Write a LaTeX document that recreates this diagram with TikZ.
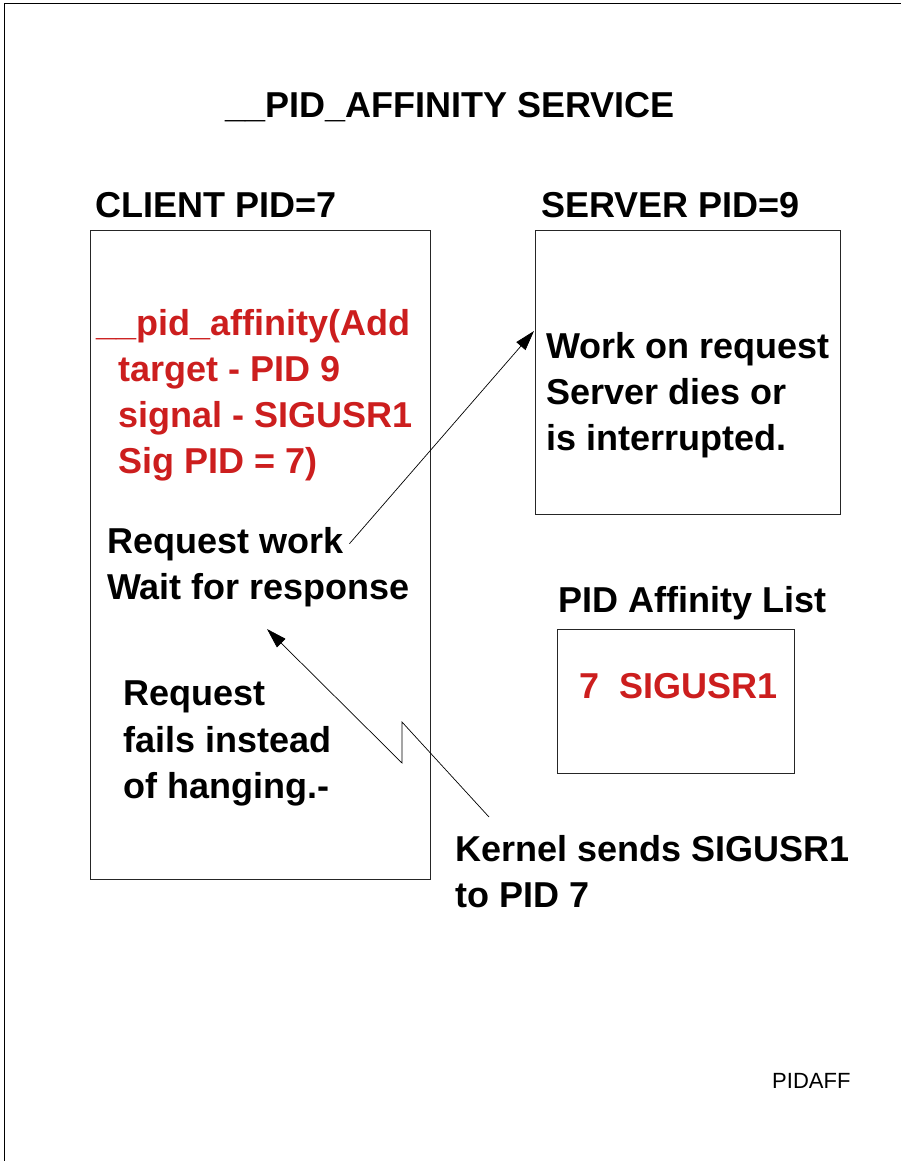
\documentclass[tikz,border=0pt]{standalone}
\usepackage{fontspec}
\setmainfont{Liberation Sans}
\usetikzlibrary{arrows.meta}
\definecolor{sigred}{RGB}{204,30,30}
\begin{document}
\begin{tikzpicture}[x=1pt,y=-1pt,
  txt/.style={font=\bfseries\fontsize{36}{44}\selectfont, inner sep=0pt, anchor=base west},
  redtxt/.style={txt, text=sigred},
  smalltxt/.style={font=\fontsize{22}{26}\selectfont, inner sep=0pt, anchor=base west},
  box/.style={draw=black!85, line width=0.8pt, inner sep=0pt, anchor=north west},
  conn/.style={line width=0.7pt, -{Triangle[length=20pt,width=12pt]}},
  zig/.style={line width=0.7pt}]
\useasboundingbox (0,0) rectangle (901,1161);
\draw[line width=1pt] (4,1161) -- (4,4) -- (901,4);

% title and headers
\node[txt] (title) at (225,118) {\_\_PID\_AFFINITY SERVICE};
\node[txt] (clienthd) at (95,218) {CLIENT PID=7};
\node[txt] (serverhd) at (541,218) {SERVER PID=9};

% boxes
\node[box, minimum width=340pt, minimum height=649pt] (client) at (90,230) {};
\node[box, minimum width=305pt, minimum height=284pt] (server) at (535,230) {};
\node[box, minimum width=237pt, minimum height=144pt] (list) at (557,629) {};

% client text
\node[redtxt] (c1) at (96,335) {\_\_pid\_affinity(Add};
\node[redtxt] (c2) at (118,381) {target - PID 9};
\node[redtxt] (c3) at (118,427) {signal - SIGUSR1};
\node[redtxt] (c4) at (118,473) {Sig PID = 7)};
\node[txt] (reqwork) at (107,553) {Request work};
\node[txt] (wait) at (107,599) {Wait for response};
\node[txt] (f1) at (123,705) {Request};
\node[txt] (f2) at (123,752) {fails instead};
\node[txt] (f3) at (123,798) {of hanging.-};

% server text
\node[txt] (s1) at (546,358) {Work on request};
\node[txt] (s2) at (546,404) {Server dies or};
\node[txt] (s3) at (546,450) {is interrupted.};

% affinity list
\node[txt] (listhd) at (558,612) {PID Affinity List};
\node[redtxt] (entry) at (579,698) {7\ \ SIGUSR1};

% kernel
\node[txt] (k1) at (455,861) {Kernel sends SIGUSR1};
\node[txt] (k2) at (455,907) {to PID 7};

\node[smalltxt] (tag) at (772,1088) {PIDAFF};

% connectors
\coordinate (a1e) at (534,331);
\draw[conn] ([xshift=6pt]reqwork.east) -- (a1e);
\coordinate (zs) at (489,817);
\coordinate (z1) at (402,722);
\coordinate (z2) at (402,763);
\coordinate (a2e) at (267,629);
\draw[conn] (zs) -- (z1) -- (z2) -- (a2e);
\end{tikzpicture}
\end{document}
